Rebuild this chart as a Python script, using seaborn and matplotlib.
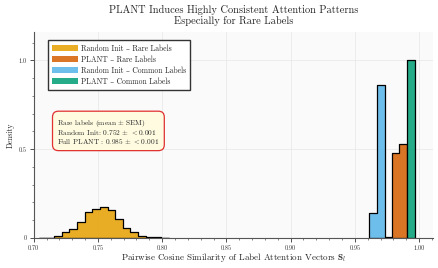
import numpy as np
import pandas as pd
import matplotlib
matplotlib.use('Agg')
import matplotlib.pyplot as plt
from matplotlib.patches import Patch
from matplotlib.ticker import MultipleLocator, FuncFormatter
import seaborn as sns

# ── Data ────────────────────────────────────────────────────
rand_rare_edges = [0.7039, 0.7098, 0.7158, 0.7218, 0.7277, 0.7337, 0.7396, 0.7456, 0.7515,
                   0.7575, 0.7634, 0.7694, 0.7753, 0.7813, 0.7872, 0.7932, 0.7991, 0.8051]
rand_rare_dens = [0.002, 0.002, 0.011, 0.036, 0.052, 0.092, 0.148, 0.165, 0.176,
                  0.157, 0.107, 0.056, 0.032, 0.013, 0.007, 0.004, 0.002]

plant_rare_edges = [0.9731, 0.9793, 0.9847, 0.9905]
plant_rare_dens = [0.006, 0.476, 0.527]

rand_common_edges = [0.9614, 0.9672, 0.9731]
rand_common_dens = [0.139, 0.862]

plant_common_edges = [0.9905, 0.9967]
plant_common_dens = [1.0]

labels = ['Random Init – Rare Labels', 'PLANT – Rare Labels',
          'Random Init – Common Labels', 'PLANT – Common Labels']
colors = ['#E69F00', '#D55E00', '#56B4E9', '#009E73']

# ── Style ───────────────────────────────────────────────────
sns.set_style('whitegrid')
plt.rcParams['font.family'] = ['cmr10', 'DejaVu Serif']
plt.rcParams['mathtext.fontset'] = 'cm'
plt.rcParams['axes.formatter.use_mathtext'] = True
plt.rcParams['axes.unicode_minus'] = False

fig = plt.figure(figsize=(4.38, 2.68), dpi=100)
ax = fig.add_axes([0.077, 0.112, 0.912, 0.767])
ax.set_facecolor('#fafafa')

series = [(rand_rare_edges, rand_rare_dens),
          (plant_rare_edges, plant_rare_dens),
          (rand_common_edges, rand_common_dens),
          (plant_common_edges, plant_common_dens)]

for (edges, dens), col in zip(series, colors):
    e = np.array(edges)
    df = pd.DataFrame({'sim': (e[:-1] + e[1:]) / 2, 'w': dens})
    sns.histplot(data=df, x='sim', weights='w', bins=list(edges), stat='count',
                 element='step', fill=True, color=col, alpha=0.85,
                 edgecolor='black', linewidth=0.9, ax=ax)

ax.set_xlim(0.70, 1.011)
ax.set_ylim(0, 1.158)
ax.xaxis.set_major_locator(MultipleLocator(0.05))
ax.xaxis.set_minor_locator(MultipleLocator(0.01))
ax.yaxis.set_major_locator(MultipleLocator(0.5))
ax.yaxis.set_minor_locator(MultipleLocator(0.1))
ax.xaxis.set_major_formatter(FuncFormatter(lambda v, p: f'{v:.2f}'))
ax.yaxis.set_major_formatter(FuncFormatter(lambda v, p: '0' if abs(v) < 1e-9 else f'{v:.1f}'))
ax.tick_params(axis='both', which='major', direction='out', length=3, width=0.6,
               labelsize=4.5, colors='#333333', bottom=True, left=True, pad=2)
ax.tick_params(axis='both', which='minor', direction='out', length=1.6, width=0.5,
               colors='#555555', bottom=True, left=True)
ax.grid(True, which='major', color='#e6e6e6', linewidth=0.5)
ax.grid(False, which='minor')

for s in ['top', 'right']:
    ax.spines[s].set_visible(False)
for s in ['left', 'bottom']:
    ax.spines[s].set_visible(True)
    ax.spines[s].set_color('#555555')
    ax.spines[s].set_linewidth(0.8)

ax.set_xlabel(r'Pairwise Cosine Similarity of Label Attention Vectors $\mathbf{S}_l$',
              fontsize=6.5, labelpad=0.5)
ax.set_ylabel('Density', fontsize=5.5, labelpad=3)
ax.set_title('PLANT Induces Highly Consistent Attention Patterns\nEspecially for Rare Labels',
             fontsize=7.5, pad=6, linespacing=1.15)

handles = [Patch(facecolor=c, alpha=0.85, edgecolor='none') for c in colors]
leg = ax.legend(handles, labels, loc='upper left', bbox_to_anchor=(0.035, 0.965),
                fontsize=5.5, frameon=True, fancybox=False, handlelength=3.4,
                handleheight=0.9, labelspacing=0.35, handletextpad=0.3,
                borderpad=0.6, borderaxespad=0)
leg.get_frame().set_edgecolor('#333333')
leg.get_frame().set_linewidth(1.0)
leg.get_frame().set_facecolor('white')
leg.get_frame().set_alpha(1.0)

ax.text(0.059, 0.516,
        'Rare labels (mean $\\pm$ SEM)\nRandom Init: 0.752 $\\pm$ $<$0.001\n'
        'Full PLANT : 0.985 $\\pm$ $<$0.001',
        transform=ax.transAxes, fontsize=5.3, va='center', ha='left', linespacing=0.92,
        bbox=dict(boxstyle='round,pad=0.65,rounding_size=0.8', facecolor='#fffbe0',
                  edgecolor='#e03030', linewidth=0.9))

fig.savefig('out.png', dpi=100)
